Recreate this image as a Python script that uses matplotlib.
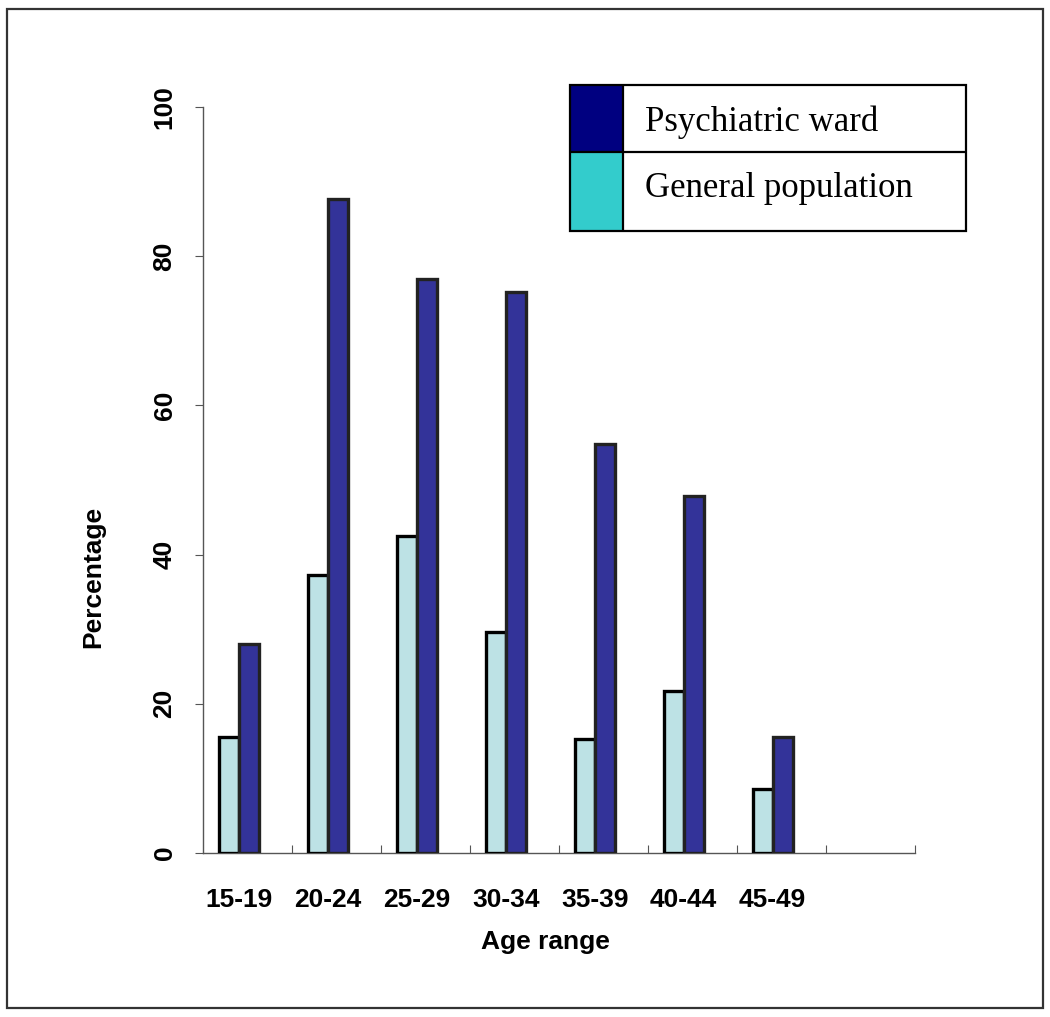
import matplotlib.pyplot as plt
from matplotlib.patches import Rectangle
import numpy as np

# data
age_ranges = ['15-19', '20-24', '25-29', '30-34', '35-39', '40-44', '45-49']
general_population = [15.6, 37.3, 42.5, 29.6, 15.3, 21.7, 8.6]
psychiatric_ward = [28.0, 87.7, 76.9, 75.2, 54.8, 47.8, 15.6]
y_ticks = [0, 20, 40, 60, 80, 100]

label_font = 'Liberation Sans'
legend_font = 'Liberation Serif'

fig = plt.figure(figsize=(10.5, 10.17), dpi=100)
ax = fig.add_axes([203 / 1050, 1 - 853 / 1017, 712 / 1050, 746 / 1017])

# one slot per age range plus an empty one; pairs sit a bit left of centre
slots = np.arange(len(age_ranges))
centers = slots + 0.4
w = 0.225
ax.bar(centers - w / 2, general_population, width=w, color='#bde2e5',
       edgecolor='black', linewidth=2.4, zorder=3)
ax.bar(centers + w / 2, psychiatric_ward, width=w, color='#333399',
       edgecolor='#222222', linewidth=2.4, zorder=3)

ax.set_xlim(0, 8)
ax.set_ylim(0, 100)
for s in ['top', 'right']:
    ax.spines[s].set_visible(False)
for s in ['left', 'bottom']:
    ax.spines[s].set_color('#555555')
    ax.spines[s].set_linewidth(1.0)

# slot boundary ticks (inward) on x, labels on the pair centres
ax.set_xticks(np.arange(1, 9))
ax.set_xticklabels([])
ax.tick_params(axis='x', which='major', direction='in', length=6,
               color='#555555')
ax.set_xticks(centers, minor=True)
ax.set_xticklabels(age_ranges, minor=True, fontsize=19, fontweight='bold',
                   family=label_font)
ax.tick_params(axis='x', which='minor', length=0, pad=25)

ax.set_yticks(y_ticks)
ax.set_yticklabels([str(t) for t in y_ticks], fontsize=19, fontweight='bold',
                   family=label_font, rotation=90, va='center')
ax.tick_params(axis='y', direction='out', length=6, color='#555555', pad=13)

ax.set_xlabel('Age range', fontsize=19, fontweight='bold', family=label_font)
ax.xaxis.set_label_coords((545 - 203) / 712, -(942 - 853) / 746)
ax.set_ylabel('Percentage', fontsize=19, fontweight='bold', family=label_font)
ax.yaxis.set_label_coords(-(203 - 93) / 712, (853 - 577) / 746)
ax.yaxis.label.set_va('center')
ax.xaxis.label.set_va('center')

# table-style legend box
lax = fig.add_axes([570 / 1050, 1 - 231 / 1017, 396 / 1050, 146 / 1017])
lax.set_xlim(0, 1)
lax.set_ylim(0, 1)
lax.axis('off')
split_x = 53 / 396
split_y = 79 / 146
lax.add_patch(Rectangle((0, split_y), split_x, 1 - split_y, facecolor='#000080',
                        edgecolor='none'))
lax.add_patch(Rectangle((0, 0), split_x, split_y, facecolor='#33cccc',
                        edgecolor='none'))
lax.add_patch(Rectangle((0, 0), 1, 1, fill=False, edgecolor='black',
                        linewidth=1.6, clip_on=False))
lax.plot([0, 1], [split_y, split_y], color='black', linewidth=1.6)
lax.plot([split_x, split_x], [0, 1], color='black', linewidth=1.6)
lax.text(75 / 396, 0.745, 'Psychiatric ward', fontsize=25, family=legend_font,
         va='center')
lax.text(75 / 396, 0.29, 'General population', fontsize=25,
         family=legend_font, va='center')

# outer frame
fig.add_artist(Rectangle((7 / 1050, 1 - 1008 / 1017), 1036 / 1050, 999 / 1017,
                         transform=fig.transFigure, fill=False,
                         edgecolor='#333333', linewidth=1.6))

fig.savefig('out.png', dpi=100, facecolor='white')
